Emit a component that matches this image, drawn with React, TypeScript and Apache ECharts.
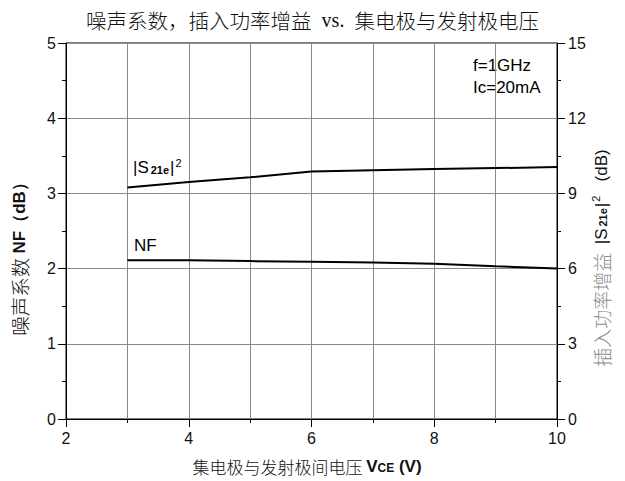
import React, { useEffect, useRef } from "react";
import * as echarts from "echarts";

// Collector-emitter voltage (V)
const vce = [3, 4, 5, 6, 7, 8, 9, 10];
// Noise figure NF (dB), left axis
const nf = [2.11, 2.11, 2.1, 2.09, 2.08, 2.065, 2.03, 2.0];
// Insertion power gain |S21e|^2 (dB), right axis
const s21 = [9.24, 9.45, 9.64, 9.87, 9.92, 9.97, 10.01, 10.05];

const titleLeft = "噪声系数，插入功率增益";
const titleRight = "集电极与发射极电压";
const conditions = ["f=1GHz", "Ic=20mA"];

const SANS = "'Liberation Sans', Arial, sans-serif";
const SERIF = "'Liberation Serif', 'DejaVu Serif', serif";
const CJK = "'Noto Sans CJK SC', sans-serif";

export default function App() {
  const ref = useRef<HTMLDivElement>(null);

  useEffect(() => {
    if (!ref.current) return;
    const chart = echarts.init(ref.current, undefined, { renderer: "svg" });
    const grid = { left: 66, right: 68, top: 43, bottom: 62 };
    const tickLabel = { fontFamily: SANS, fontSize: 16, color: "#111" };
    chart.setOption({
      animation: false,
      backgroundColor: "#fff",
      title: {
        text: `{c|${titleLeft}}{l|  vs.  }{c|${titleRight}}`,
        left: "center",
        top: 5,
        textStyle: {
          fontWeight: "normal",
          rich: {
            c: { fontFamily: CJK, fontSize: 20.5, fontWeight: 300, color: "#111" },
            l: { fontFamily: SERIF, fontSize: 20, fontWeight: "normal", color: "#111" },
          },
        },
      },
      grid: { ...grid, show: true, borderColor: "#000", borderWidth: 1, backgroundColor: "transparent" },
      xAxis: {
        type: "value",
        min: 2,
        max: 10,
        interval: 2,
        axisLine: { lineStyle: { color: "#000", width: 1 } },
        axisTick: { show: true, length: 8, lineStyle: { color: "#000" } },
        minorTick: { show: true, splitNumber: 2, length: 4, lineStyle: { color: "#000" } },
        splitLine: { show: true, lineStyle: { color: "#8a8a8a", width: 1 } },
        minorSplitLine: { show: true, lineStyle: { color: "#8a8a8a", width: 1 } },
        axisLabel: { ...tickLabel, margin: 11 },
      },
      yAxis: [
        {
          type: "value",
          min: 0,
          max: 5,
          interval: 1,
          position: "left",
          axisLine: { show: true, lineStyle: { color: "#000", width: 1 } },
          axisTick: { show: true, length: 8, lineStyle: { color: "#000" } },
          minorTick: { show: true, splitNumber: 2, length: 4, lineStyle: { color: "#000" } },
          splitLine: { show: true, lineStyle: { color: "#8a8a8a", width: 1 } },
          axisLabel: { ...tickLabel, margin: 10 },
        },
        {
          type: "value",
          min: 0,
          max: 15,
          interval: 3,
          position: "right",
          axisLine: { show: true, lineStyle: { color: "#000", width: 1 } },
          axisTick: { show: true, length: 8, lineStyle: { color: "#000" } },
          minorTick: { show: true, splitNumber: 2, length: 4, lineStyle: { color: "#000" } },
          splitLine: { show: false },
          axisLabel: { ...tickLabel, margin: 11 },
        },
      ],
      series: [
        {
          name: "NF",
          type: "line",
          yAxisIndex: 0,
          data: vce.map((v, i) => [v, nf[i]]),
          showSymbol: false,
          lineStyle: { color: "#000", width: 2 },
        },
        {
          name: "|S21e|2",
          type: "line",
          yAxisIndex: 1,
          data: vce.map((v, i) => [v, s21[i]]),
          showSymbol: false,
          lineStyle: { color: "#000", width: 2 },
        },
      ],
      graphic: [
        // curve labels
        {
          type: "text",
          left: 133,
          top: 157,
          style: {
            text: "|{s|S}{sub|21e}|{sup|2}",
            rich: {
              s: { fontFamily: SANS, fontSize: 17, fill: "#000" },
              sub: { fontFamily: SANS, fontSize: 11, fill: "#000", fontWeight: "bold", padding: [4, 1, 0, 2] },
              sup: { fontFamily: SANS, fontSize: 11, fill: "#000", padding: [0, 0, 10, 1] },
            },
            fontFamily: SANS,
            fontSize: 17,
            fill: "#000",
          },
        },
        {
          type: "text",
          left: 134,
          top: 237,
          style: { text: "NF", fontFamily: SANS, fontSize: 17, fill: "#000" },
        },
        // operating conditions
        {
          type: "text",
          left: 473,
          top: 54,
          style: {
            text: conditions.join("\n"),
            fontFamily: SANS,
            fontSize: 17,
            lineHeight: 22,
            fill: "#000",
          },
        },
        // left axis name
        {
          type: "text",
          x: 19,
          y: 255,
          rotation: Math.PI / 2,
          style: {
            text: "{c|噪声系数 }{b|NF（dB）}",
            align: "center",
            verticalAlign: "middle",
            rich: {
              c: { fontFamily: CJK, fontSize: 19.5, fontWeight: 300, fill: "#111" },
              b: { fontFamily: SANS, fontSize: 17, fontWeight: "bold", fill: "#111" },
            },
          },
        },
        // right axis name
        {
          type: "text",
          x: 601,
          y: 258,
          rotation: Math.PI / 2,
          style: {
            text: "{c|插入功率增益  }{s||S}{sub|21e}{s||}{sup|2}{s|   (dB)}",
            align: "center",
            verticalAlign: "middle",
            rich: {
              c: { fontFamily: CJK, fontSize: 19, fontWeight: 300, fill: "#8c8c8c" },
              s: { fontFamily: SANS, fontSize: 17, fill: "#111" },
              sub: { fontFamily: SANS, fontSize: 11, fontWeight: "bold", fill: "#111", padding: [4, 1, 0, 2] },
              sup: { fontFamily: SANS, fontSize: 11, fill: "#111", padding: [0, 0, 10, 1] },
            },
          },
        },
        // x axis name
        {
          type: "text",
          x: 307,
          y: 466,
          style: {
            text: "{c|集电极与发射极间电压 }{b|V}{bs|CE}{b| (V)}",
            align: "center",
            verticalAlign: "middle",
            rich: {
              c: { fontFamily: CJK, fontSize: 17, fontWeight: 300, fill: "#111" },
              b: { fontFamily: SANS, fontSize: 17, fontWeight: "bold", fill: "#111" },
              bs: { fontFamily: SANS, fontSize: 12, fontWeight: "bold", fill: "#111", padding: [3, 0, 0, 0] },
            },
          },
        },
      ],
    });
    return () => chart.dispose();
  }, []);

  return <div ref={ref} style={{ width: 625, height: 481, position: "absolute", left: 0, top: 0 }} />;
}
